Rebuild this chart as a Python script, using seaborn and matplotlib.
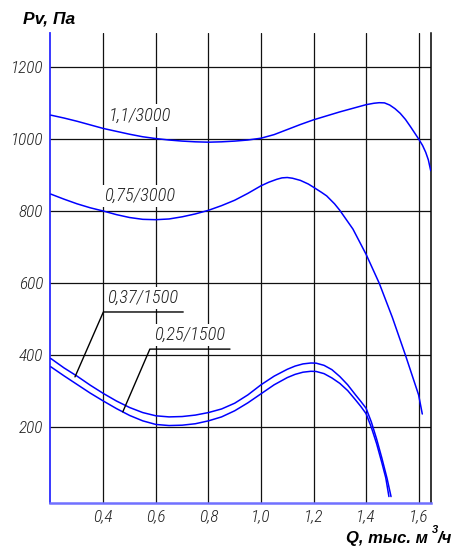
import matplotlib
matplotlib.use("Agg")
import os
import matplotlib.pyplot as plt
from matplotlib import font_manager as fm
from matplotlib.font_manager import FontProperties
import seaborn as sns
import pandas as pd

# ---- data ----
q_11 = [0.20, 0.25, 0.30, 0.35, 0.40, 0.45, 0.50, 0.55, 0.60, 0.65, 0.70, 0.75, 0.80, 0.85,
        0.90, 0.95, 1.00, 1.05, 1.10, 1.15, 1.20, 1.25, 1.30, 1.35, 1.40, 1.43, 1.45, 1.47,
        1.49, 1.51, 1.53, 1.55, 1.57, 1.60, 1.615, 1.627, 1.637, 1.646]
pv_11 = [1066, 1058, 1049, 1039, 1029, 1021, 1013, 1006, 1001, 997, 994, 992, 991, 992,
         994, 997, 1002, 1012, 1026, 1040, 1053, 1064, 1075, 1085, 1095, 1099, 1100.5, 1100,
         1094, 1084, 1071, 1054, 1033, 1000, 982, 963, 942, 912]

q_075 = [0.20, 0.25, 0.30, 0.35, 0.40, 0.45, 0.50, 0.55, 0.60, 0.65, 0.70, 0.75, 0.80, 0.85,
         0.90, 0.95, 1.00, 1.03, 1.06, 1.08, 1.10, 1.12, 1.15, 1.18, 1.20, 1.23, 1.25, 1.28,
         1.30, 1.35, 1.40, 1.45, 1.50, 1.55, 1.60, 1.614]
pv_075 = [847, 833, 820, 809, 800, 790, 782, 777, 776, 778, 784, 792, 802, 815,
          830, 849, 870, 880, 888, 892, 893, 891, 885, 875, 866, 852, 842, 820,
          802, 750, 680, 600, 505, 400, 290, 237]

q_037 = [0.20, 0.25, 0.30, 0.35, 0.40, 0.45, 0.50, 0.55, 0.60, 0.65, 0.70, 0.75, 0.80, 0.85,
         0.90, 0.95, 1.00, 1.05, 1.10, 1.13, 1.16, 1.19, 1.21, 1.24, 1.27, 1.30, 1.33, 1.36,
         1.38, 1.40, 1.42, 1.44, 1.46, 1.48, 1.495]
pv_037 = [391, 365, 342, 317, 294, 273, 255, 241, 232, 229, 230, 234, 241, 251,
          267, 290, 318, 342, 361, 370, 376, 378.5, 378, 372, 360, 341, 318, 290,
          272, 253, 215, 168, 115, 58, 8]

q_025 = [0.20, 0.25, 0.30, 0.35, 0.40, 0.45, 0.50, 0.55, 0.60, 0.65, 0.70, 0.75, 0.80, 0.85,
         0.90, 0.95, 1.00, 1.05, 1.10, 1.13, 1.16, 1.19, 1.21, 1.24, 1.27, 1.30, 1.33, 1.36,
         1.38, 1.40, 1.42, 1.44, 1.46, 1.475, 1.487]
pv_025 = [368, 343, 319, 295, 273, 252, 233, 218, 208, 205, 206, 210, 218, 229,
          246, 268, 293, 318, 338, 347, 353, 355.5, 355, 349, 337, 322, 302, 276,
          258, 238, 200, 155, 102, 60, 8]

curve_names = ["1,1/3000", "0,75/3000", "0,37/1500", "0,25/1500"]

x_ticks = [0.4, 0.6, 0.8, 1.0, 1.2, 1.4, 1.6]
x_tick_labels = ["0,4", "0,6", "0,8", "1,0", "1,2", "1,4", "1,6"]
y_ticks = [200, 400, 600, 800, 1000, 1200]
y_tick_labels = ["200", "400", "600", "800", "1000", "1200"]


# ---- narrow italic font selection (by file) ----
def pick_narrow_italic():
    prefs = ["LiberationSansNarrow-Italic", "RobotoCondensed-LightItalic",
             "RobotoCondensed-Italic", "DejaVuSansCondensed-Oblique",
             "OpenSans_Condensed-LightItalic", "OpenSans_Condensed-Italic",
             "NotoSans-CondensedLightItalic", "NotoSans-CondensedItalic"]
    files = [f.fname for f in fm.fontManager.ttflist]
    base = {os.path.splitext(os.path.basename(p))[0]: p for p in files}
    for p in prefs:
        if p in base:
            return base[p]
    for f in fm.fontManager.ttflist:
        fn = os.path.basename(f.fname).lower()
        if ("condensed" in fn or "narrow" in fn) and ("italic" in fn or "oblique" in fn) \
                and "bold" not in fn and "black" not in fn:
            return f.fname
    return None


narrow_file = pick_narrow_italic()


def nfp(size):
    if narrow_file:
        return FontProperties(fname=narrow_file, size=size)
    return FontProperties(family="Liberation Sans", style="italic", size=size)


# ---- figure ----
sns.set_style("white")
plt.rcParams["font.family"] = ["Liberation Sans", "DejaVu Sans"]

W, H = 465, 557
fig = plt.figure(figsize=(W / 100, H / 100), dpi=100)
left, right, top, bottom = 49.5, 430.7, 33.3, 502.7
ax = fig.add_axes([left / W, 1 - bottom / H, (right - left) / W, (bottom - top) / H])

df = pd.concat([
    pd.DataFrame({"Q": q_11, "Pv": pv_11, "curve": curve_names[0]}),
    pd.DataFrame({"Q": q_075, "Pv": pv_075, "curve": curve_names[1]}),
    pd.DataFrame({"Q": q_037, "Pv": pv_037, "curve": curve_names[2]}),
    pd.DataFrame({"Q": q_025, "Pv": pv_025, "curve": curve_names[3]}),
])
for name in curve_names:
    sns.lineplot(data=df[df["curve"] == name], x="Q", y="Pv", ax=ax, color="#0000ff",
                 lw=1.1, sort=False, estimator=None, legend=False, zorder=3)

ax.set_xlim(0.195, 1.646)
ax.set_ylim(-9, 1293)
ax.set_xticks(x_ticks)
ax.set_xticklabels(x_tick_labels)
ax.set_yticks(y_ticks)
ax.set_yticklabels(y_tick_labels)
ax.grid(True, color="#111111", lw=0.9)
ax.set_axisbelow(True)
ax.tick_params(length=0, labelcolor="#222222")
ax.tick_params(axis="y", pad=4.5)
ax.tick_params(axis="x", pad=5)
ax.set_xlabel("")
ax.set_ylabel("")

ax.spines["top"].set_visible(False)
ax.spines["left"].set_color("#2a2aff")
ax.spines["left"].set_linewidth(1.3)
ax.spines["bottom"].set_color("#7070ff")
ax.spines["bottom"].set_linewidth(1.8)
ax.spines["right"].set_color("black")
ax.spines["right"].set_linewidth(1.1)

# measure the narrow font to match reference text widths
fig.canvas.draw()
renderer = fig.canvas.get_renderer()
probe = fig.text(0, 0, "1200", fontproperties=nfp(13))
w1200 = probe.get_window_extent(renderer).width
probe.set_text("1,1/3000")
wlab = probe.get_window_extent(renderer).width
probe.remove()
tick_size = 13 * 32.5 / w1200
lab_size = 13 * 62.0 / wlab

for lab in ax.get_xticklabels() + ax.get_yticklabels():
    lab.set_fontproperties(nfp(tick_size))

lab_kw = dict(color="#222222", ha="center", va="center", zorder=4,
              bbox=dict(facecolor="white", edgecolor="none", pad=1.5))
ax.text(0.540, 1065, curve_names[0], fontproperties=nfp(lab_size), **lab_kw)
ax.text(0.539, 843, curve_names[1], fontproperties=nfp(lab_size), **lab_kw)
ax.text(0.548, 559, curve_names[2], fontproperties=nfp(lab_size), **lab_kw)
ax.text(0.728, 457, curve_names[3], fontproperties=nfp(lab_size), **lab_kw)

# leader lines
ax.plot([0.292, 0.400, 0.704], [340, 520, 520], color="black", lw=1.0, zorder=5)
ax.plot([0.474, 0.577, 0.882], [243, 417, 417], color="black", lw=1.0, zorder=5)

# axis titles
bi = dict(fontweight="bold", fontstyle="italic", family=["Liberation Sans", "DejaVu Sans"],
          color="black")
fig.text(23 / W, 1 - 23.5 / H, "Pv, Па", fontsize=12.5, ha="left", va="baseline", **bi)
fig.text(346 / W, 1 - 543.3 / H, "Q, тыс. м", fontsize=12, ha="left", va="baseline", **bi)
fig.text(431.5 / W, 1 - 533 / H, "3", fontsize=8, ha="left", va="baseline", **bi)
fig.text(438 / W, 1 - 543.3 / H, "/ч", fontsize=12, ha="left", va="baseline", **bi)

fig.savefig("out.png", dpi=100)
